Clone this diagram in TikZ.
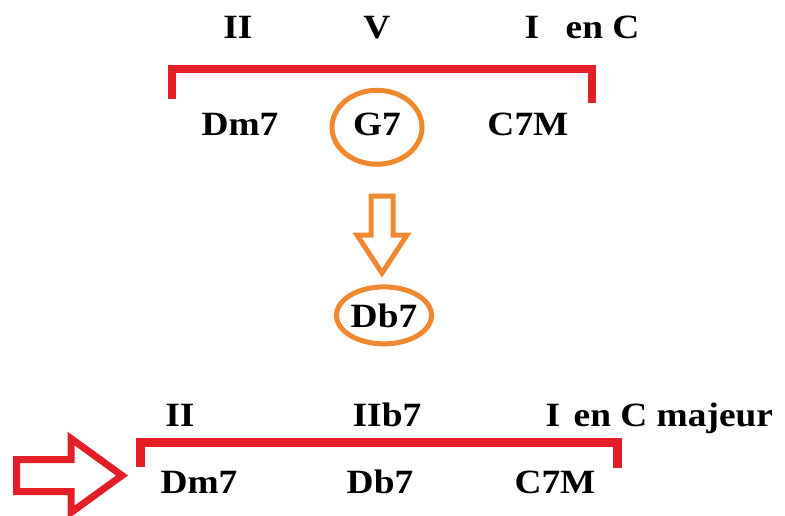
\documentclass[tikz,border=0pt]{standalone}
\usepackage{fontspec}
\setmainfont{Liberation Serif}[FakeStretch=1.1]
\usepackage{tikz}
\usetikzlibrary{positioning,shapes.geometric}
\definecolor{barred}{RGB}{228,30,38}
\definecolor{ringorange}{RGB}{239,136,46}

\begin{document}
\begin{tikzpicture}[x=1pt, y=-1pt,
        every node/.style={inner sep=0pt, font=\fontsize{34}{34}\selectfont\bfseries},
        ring/.style={ellipse, draw=ringorange, line width=5pt},
        bracket/.style={draw=barred, line width=8pt},
        hollow/.style={line join=miter}]
        \useasboundingbox (0,0) rectangle (785,515);

        % II - V - I en C
        \foreach \n/\x/\t in {ii/238/II, v/377/V, i/532/I}
            \node[anchor=base] (\n) at (\x,38) {\t};
        \node[base right=26pt of i] (enc) {en C};

        \node[anchor=base] (dm) at (240,135) {Dm7};
        \node[anchor=base, ring, text depth=7pt, minimum width=90pt, minimum height=74pt] (g) at (377,135) {G7};
        \node[anchor=base] (cm) at (528,135) {C7M};

        \draw[bracket] (172,99) |- (592,69) -- (592,103);

        % Substitution
        \draw[hollow, draw=ringorange, line width=5pt]
            (371,196) -- (393,196) -- (393,235) -- (407,235) -- (382,273)
            -- (357,235) -- (371,235) -- cycle;
        \node[anchor=base, ring, minimum width=95pt, minimum height=57pt] (db) at (384,327) {Db7};

        % II - IIb7 - I en C majeur
        \foreach \n/\x/\t in {ii2/180/II, iib/387/IIb7, i2/553/I}
            \node[anchor=base] (\n) at (\x,426) {\t};
        \node[base right=13pt of i2] (encmaj) {en C majeur};

        \foreach \n/\x/\t in {dm2/199/Dm7, db2/380/Db7, cm2/555/C7M}
            \node[anchor=base] (\n) at (\x,493) {\t};

        \draw[bracket, line width=9pt] (140,467) |- (617,442) -- (617,468);

        \draw[hollow, draw=barred, line width=7pt]
            (16.5,459.5) -- (71,459.5) -- (71,438.5) -- (122,475.5)
            -- (71,512.5) -- (71,491.5) -- (16.5,491.5) -- cycle;
    \end{tikzpicture}
\end{document}
